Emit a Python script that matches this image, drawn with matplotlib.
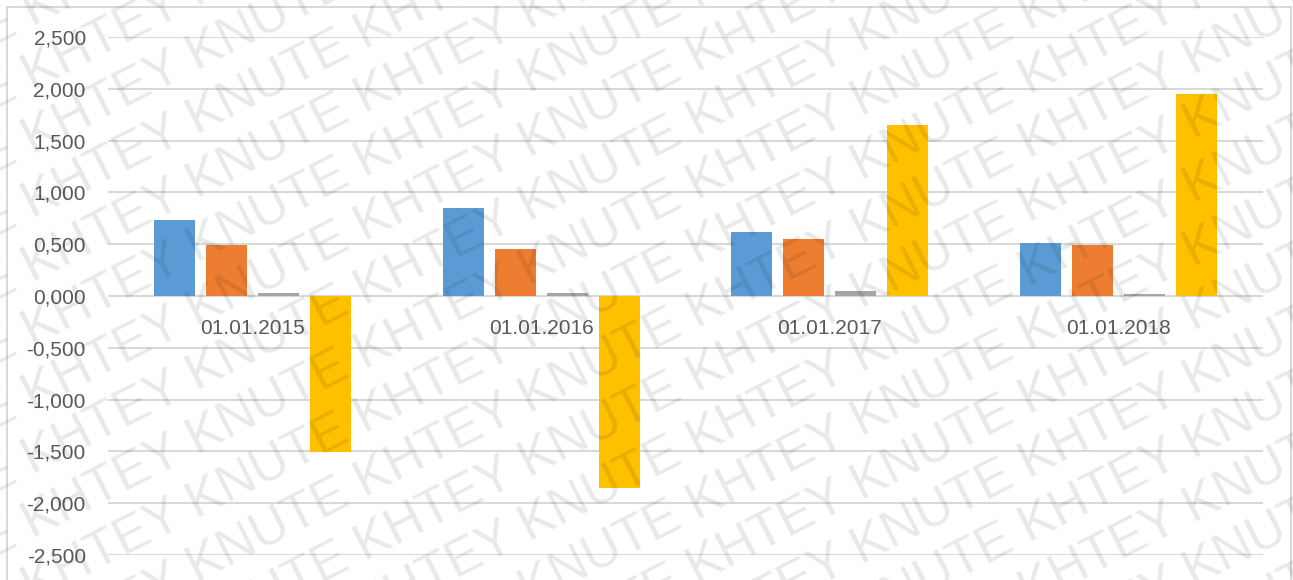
import matplotlib
matplotlib.use("Agg")
import matplotlib.pyplot as plt
import numpy as np
from matplotlib.patches import Rectangle

categories = ["01.01.2015", "01.01.2016", "01.01.2017", "01.01.2018"]
series_blue = [0.735, 0.848, 0.616, 0.513]
series_orange = [0.490, 0.450, 0.551, 0.490]
series_gray = [0.030, 0.026, 0.045, 0.015]
series_yellow = [-1.506, -1.850, 1.654, 1.953]
yticks = [2.5, 2.0, 1.5, 1.0, 0.5, 0.0, -0.5, -1.0, -1.5, -2.0, -2.5]
ytick_labels = ["2,500", "2,000", "1,500", "1,000", "0,500", "0,000",
                "-0,500", "-1,000", "-1,500", "-2,000", "-2,500"]
watermark = "KHTEY KNUTE"

W, H = 1293, 580
fig = plt.figure(figsize=(W / 100, H / 100), dpi=100)
fig.patch.set_facecolor("white")
ax = fig.add_axes([108 / W, 1 - 555 / H, (1263 - 108) / W, (555 - 37) / H])
ax.set_facecolor("none")

font = "Liberation Sans"
txtc = "#595959"
gridc = "#d9d9d9"

x = np.arange(len(categories))
step = 0.18
bw = 0.142
colors = ["#5B9BD5", "#ED7D31", "#A5A5A5", "#FFC000"]
for i, (vals, c) in enumerate(zip([series_blue, series_orange, series_gray, series_yellow], colors)):
    ax.bar(x + (i - 1.5) * step, vals, width=bw, color=c, zorder=3, linewidth=0)

ax.set_xlim(-0.5, len(categories) - 0.5)
ax.set_ylim(-2.5, 2.5)
ax.set_yticks(yticks)
ax.set_yticklabels(ytick_labels, fontsize=15, color=txtc, fontname=font)
ax.tick_params(axis="y", length=0, pad=16)
ax.set_xticks([])
ax.grid(axis="y", color=gridc, linewidth=1.5, zorder=0)
for s in ax.spines.values():
    s.set_visible(False)
ax.axhline(0, color=gridc, linewidth=1.5, zorder=2)

for xi, lab in zip(x, categories):
    ax.annotate(lab, (xi, 0), xytext=(0, -32), textcoords="offset pixels",
                ha="center", va="center", fontsize=15, color=txtc, fontname=font, zorder=4)

# chart frame
fig.patches.append(Rectangle((7 / W, -0.05), (1291 - 7) / W, 1 - 7 / H + 0.05,
                             transform=fig.transFigure, fill=False,
                             edgecolor=gridc, linewidth=1.5))

# watermark
line = (watermark + " ") * 8
ang = 27
for k in range(-14, 12):
    fig.text(-300 / W, (k * 64) / H, line, rotation=ang, rotation_mode="anchor",
             ha="left", va="baseline", fontsize=37, fontname=font,
             color="#000000", alpha=0.09, zorder=10)

fig.savefig("out.png", dpi=100)
